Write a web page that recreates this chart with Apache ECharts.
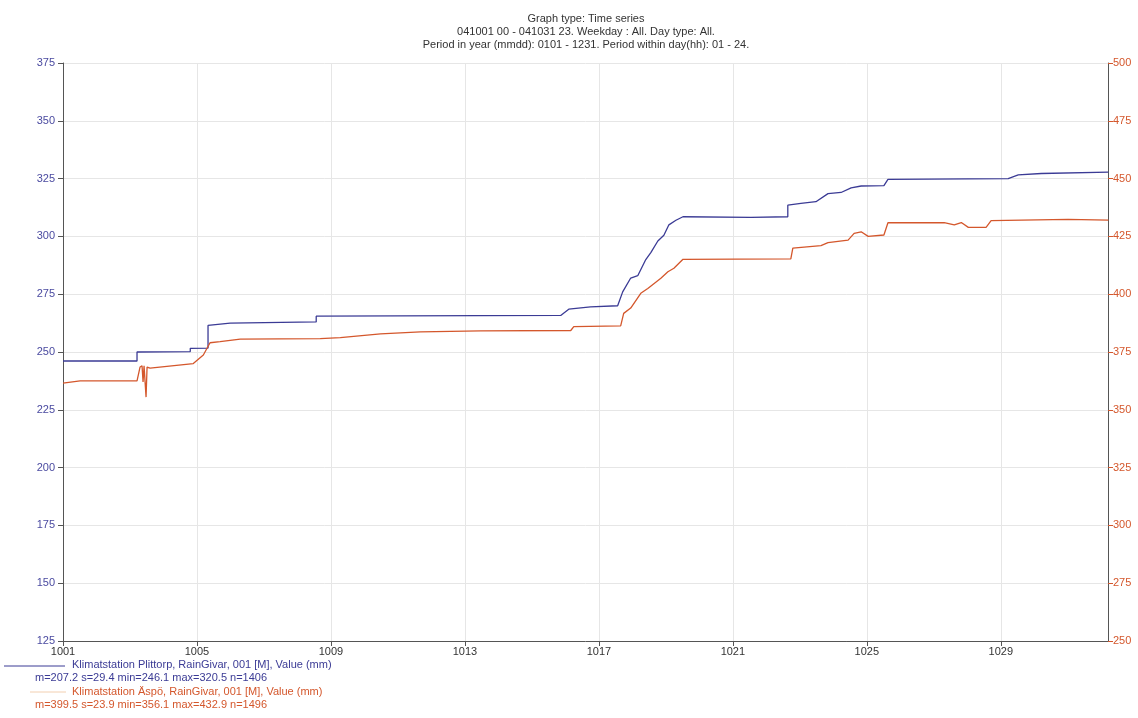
<!DOCTYPE html>
<html>
<head>
<meta charset="utf-8">
<script src="https://cdn.jsdelivr.net/npm/echarts@6/dist/echarts.min.js"></script>
<style>html,body{margin:0;padding:0;background:#fff;}#c{width:1138px;height:718px;}</style>
</head>
<body>
<div id="c"></div>
<script>
// Day offsets from 1001 00h
const plittorpDays = [0.00, 2.21, 2.21, 3.80, 3.80, 4.33, 4.33, 4.99, 7.56, 7.56, 14.86, 15.10, 15.75, 16.56, 16.71, 16.95, 17.16, 17.40, 17.55, 17.76, 17.94, 18.09, 18.30, 18.51, 20.54, 21.64, 21.64, 22.03, 22.48, 22.84, 23.23, 23.53, 23.83, 24.51, 24.63, 28.22, 28.52, 29.21, 31.21];
const plittorpValues = [246.1, 246.1, 250.0, 250.2, 251.6, 251.7, 261.5, 262.5, 263.0, 265.5, 265.8, 268.5, 269.5, 270.0, 276.0, 282.0, 283.0, 290.0, 293.0, 298.0, 300.5, 305.0, 307.0, 308.5, 308.2, 308.5, 313.5, 314.3, 315.0, 318.5, 319.0, 321.0, 321.8, 322.0, 324.7, 325.0, 326.6, 327.2, 327.8];

const aspoDays = [0.00, 0.51, 2.21, 2.30, 2.36, 2.39, 2.42, 2.48, 2.51, 2.60, 3.89, 4.19, 4.39, 4.69, 5.29, 7.68, 8.28, 9.48, 10.67, 12.47, 15.16, 15.25, 16.65, 16.74, 16.95, 17.25, 17.46, 17.85, 18.06, 18.24, 18.51, 21.73, 21.79, 22.63, 22.84, 23.44, 23.62, 23.83, 24.04, 24.51, 24.63, 26.31, 26.61, 26.82, 27.03, 27.56, 27.71, 30.01, 31.21];
const aspoValues = [361.5, 362.5, 362.5, 368.5, 369.0, 362.0, 369.0, 355.5, 368.5, 368.0, 370.0, 373.7, 379.0, 379.5, 380.6, 380.8, 381.2, 382.8, 383.7, 384.1, 384.3, 386.0, 386.3, 391.7, 394.0, 400.4, 402.5, 406.9, 409.7, 411.2, 415.1, 415.3, 419.9, 421.0, 422.3, 423.4, 426.3, 427.0, 425.0, 425.6, 430.9, 431.0, 430.0, 431.0, 428.9, 428.9, 431.8, 432.4, 432.0];

const titleLines = ['Graph type: Time series', '041001 00 - 041031 23. Weekday : All. Day type: All.', 'Period in year (mmdd): 0101 - 1231. Period within day(hh): 01 - 24.'];
const seriesNames = ['Klimatstation Plittorp, RainGivar, 001 [M], Value (mm)', 'Klimatstation Äspö, RainGivar, 001 [M], Value (mm)'];
const seriesStats = ['m=207.2 s=29.4 min=246.1 max=320.5 n=1406', 'm=399.5 s=23.9 min=356.1 max=432.9 n=1496'];

const blue = '#3b3b95';
const red = '#d4572c';
const font = 'Liberation Sans, Arial, sans-serif';

const chart = echarts.init(document.getElementById('c'));
const zip = (a, b) => a.map((d, i) => [d, b[i]]);

chart.setOption({
  animation: false,
  backgroundColor: '#fff',
  title: {
    text: titleLines.join('\n'),
    left: 581, top: 7, textAlign: 'center',
    textStyle: {fontFamily: font, fontSize: 11, fontWeight: 'normal', color: '#333', lineHeight: 13}
  },
  grid: {left: 63, right: 30, top: 63, bottom: 77},
  xAxis: {
    type: 'value', min: 0, max: 31.2, interval: 4,
    axisLine: {lineStyle: {color: '#555', width: 1}},
    axisTick: {show: true, length: 5, lineStyle: {color: '#555'}},
    axisLabel: {color: '#333', fontFamily: font, fontSize: 11, margin: 5, showMaxLabel: false,
      formatter: v => String(1001 + v)},
    splitLine: {show: true, lineStyle: {color: '#e6e6e6'}}
  },
  yAxis: [{
    type: 'value', min: 125, max: 375, interval: 25, position: 'left',
    axisLine: {show: true, lineStyle: {color: '#555'}},
    axisTick: {show: true, length: 5, lineStyle: {color: '#555'}},
    axisLabel: {color: '#4a4aa0', fontFamily: font, fontSize: 11, margin: 8},
    splitLine: {show: true, lineStyle: {color: '#e6e6e6'}}
  }, {
    type: 'value', min: 250, max: 500, interval: 25, position: 'right',
    axisLine: {show: true, lineStyle: {color: '#555'}},
    axisTick: {show: true, length: 5, lineStyle: {color: red}},
    axisLabel: {color: red, fontFamily: font, fontSize: 11, margin: 5},
    splitLine: {show: false}
  }],
  series: [{
    name: seriesNames[0], type: 'line', yAxisIndex: 0, showSymbol: false,
    data: zip(plittorpDays, plittorpValues),
    lineStyle: {color: blue, width: 1.3}, itemStyle: {color: blue}
  }, {
    name: seriesNames[1], type: 'line', yAxisIndex: 1, showSymbol: false,
    data: zip(aspoDays, aspoValues),
    lineStyle: {color: red, width: 1.3}, itemStyle: {color: red}
  }],
  graphic: [
    {type: 'line', shape: {x1: 4, y1: 666, x2: 65, y2: 666}, style: {stroke: blue, lineWidth: 1}},
    {type: 'text', left: 72, top: 659, style: {text: seriesNames[0], fill: blue, font: '11px ' + font}},
    {type: 'text', left: 35, top: 672, style: {text: seriesStats[0], fill: blue, font: '11px ' + font}},
    {type: 'line', shape: {x1: 30, y1: 692, x2: 66, y2: 692}, style: {stroke: '#f2cfb0', lineWidth: 1}},
    {type: 'text', left: 72, top: 686, style: {text: seriesNames[1], fill: red, font: '11px ' + font}},
    {type: 'text', left: 35, top: 699, style: {text: seriesStats[1], fill: red, font: '11px ' + font}}
  ]
});
</script>
</body>
</html>
